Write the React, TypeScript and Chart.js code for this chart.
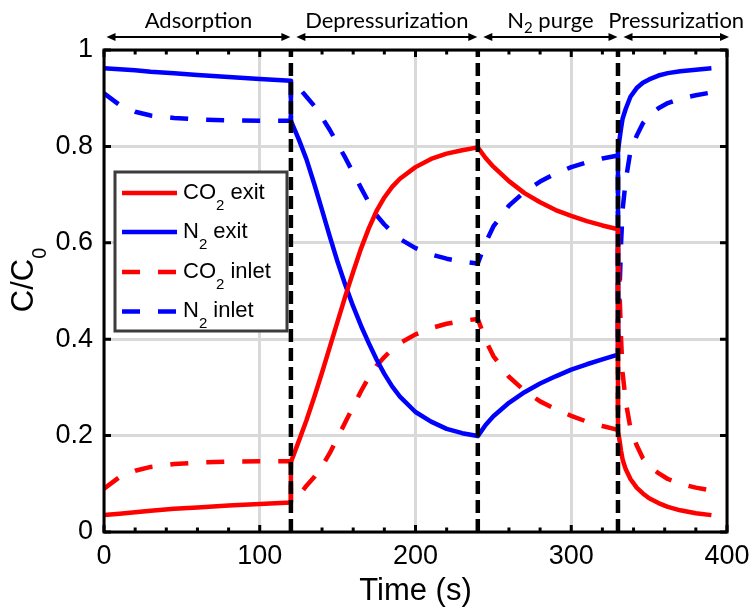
import React, { useEffect, useRef } from "react";
import { Chart, registerables } from "chart.js";

Chart.register(...registerables);

// ---------- data ----------
const time = [
  0, 10, 20, 30, 45, 60, 80, 100, 120,
  120, 125, 130, 135, 140, 145, 150, 155, 160, 165, 170, 175, 180, 185, 190, 200, 210, 220, 230, 240,
  245, 250, 260, 270, 280, 290, 300, 310, 320, 330,
  330, 331, 332, 333, 335, 338, 342, 346, 350, 356, 362, 370, 380, 390,
];

const co2Exit = [
  0.035, 0.038, 0.041, 0.044, 0.048, 0.051, 0.055, 0.058, 0.061,
  0.145, 0.188, 0.232, 0.28, 0.331, 0.384, 0.437, 0.49, 0.54, 0.588, 0.63, 0.666, 0.694, 0.716, 0.733, 0.757, 0.774, 0.785, 0.792, 0.798,
  0.776, 0.758, 0.728, 0.703, 0.684, 0.668, 0.656, 0.645, 0.636, 0.628,
  0.21, 0.19, 0.168, 0.15, 0.13, 0.11, 0.092, 0.08, 0.07, 0.06, 0.052, 0.045, 0.039, 0.035,
];

const n2Exit = [
  0.962, 0.96, 0.958, 0.955, 0.952, 0.948, 0.944, 0.94, 0.936,
  0.853, 0.815, 0.773, 0.722, 0.668, 0.613, 0.56, 0.512, 0.468, 0.428, 0.392, 0.358, 0.328, 0.302, 0.281, 0.249, 0.229, 0.214, 0.205, 0.199,
  0.222, 0.24, 0.268, 0.29, 0.308, 0.323, 0.337, 0.348, 0.358, 0.368,
  0.79, 0.815, 0.838, 0.858, 0.878, 0.903, 0.921, 0.932, 0.939, 0.947, 0.952, 0.956, 0.959, 0.962,
];

const co2Inlet = [
  0.09, 0.114, 0.127, 0.135, 0.141, 0.144, 0.146, 0.147, 0.147,
  0.061, 0.075, 0.096, 0.114, 0.136, 0.164, 0.196, 0.228, 0.26, 0.292, 0.321, 0.345, 0.363, 0.379, 0.392, 0.41, 0.423, 0.432, 0.438, 0.442,
  0.398, 0.365, 0.322, 0.293, 0.271, 0.255, 0.241, 0.229, 0.22, 0.212,
  0.628, 0.5, 0.4, 0.33, 0.27, 0.215, 0.18, 0.153, 0.137, 0.122, 0.11, 0.1, 0.092, 0.086,
];

const n2Inlet = [
  0.91, 0.886, 0.872, 0.864, 0.859, 0.856, 0.854, 0.853, 0.853,
  0.94, 0.922, 0.903, 0.884, 0.86, 0.834, 0.805, 0.776, 0.745, 0.714, 0.684, 0.657, 0.638, 0.622, 0.608, 0.589, 0.576, 0.567, 0.561, 0.557,
  0.6, 0.634, 0.677, 0.706, 0.727, 0.744, 0.757, 0.767, 0.775, 0.781,
  0.37, 0.5, 0.6, 0.67, 0.73, 0.79, 0.822, 0.848, 0.863, 0.879, 0.89, 0.899, 0.906, 0.912,
];

const seriesNames = ["CO_2 exit", "N_2 exit", "CO_2 inlet", "N_2 inlet"];
const phaseBoundaries = [120, 240, 330];
const phaseStarts = [0, 120, 240, 330];
const phaseEnds = [120, 240, 330, 400];
const phaseNames = ["Adsorption", "Depressurization", "N_2 purge", "Pressurization"];
const xRange = [0, 400];
const yRange = [0, 1];
const xMajorStep = 100;
const xMinorStep = 20;
const yMajorStep = 0.2;

// ---------- styles ----------
const SANS = "'Liberation Sans', Arial, Helvetica, sans-serif";
const TOPFONT = "Lato, 'Open Sans', sans-serif";
const RED = "rgb(255,0,0)";
const BLUE = "rgb(0,0,255)";
const CURVE_W = 4.5;
const DASH = [18, 18];

type Part = { s: string; sub: boolean };
function parseRich(text: string): Part[] {
  const parts: Part[] = [];
  let buf = "";
  for (let i = 0; i < text.length; i++) {
    if (text[i] === "_" && i + 1 < text.length) {
      if (buf) parts.push({ s: buf, sub: false });
      buf = "";
      parts.push({ s: text[i + 1], sub: true });
      i++;
    } else buf += text[i];
  }
  if (buf) parts.push({ s: buf, sub: false });
  return parts;
}

function drawRich(
  ctx: CanvasRenderingContext2D,
  text: string,
  x: number,
  y: number,
  size: number,
  subSize: number,
  subShift: number,
  align: "left" | "center",
  family: string
) {
  const parts = parseRich(text);
  const widths = parts.map((p) => {
    ctx.font = `${p.sub ? subSize : size}px ${family}`;
    return ctx.measureText(p.s).width;
  });
  const total = widths.reduce((a, b) => a + b, 0);
  let cx = align === "center" ? x - total / 2 : x;
  ctx.textAlign = "left";
  ctx.textBaseline = "alphabetic";
  parts.forEach((p, k) => {
    ctx.font = `${p.sub ? subSize : size}px ${family}`;
    ctx.fillText(p.s, cx, y + (p.sub ? subShift : 0));
    cx += widths[k];
  });
}

const framePlugin = {
  id: "frameAndDecor",
  afterDatasetsDraw(chart: any) {
    const { ctx, chartArea } = chart;
    const xs = chart.scales.x;
    const ys = chart.scales.y;
    const { left, right, top, bottom } = chartArea;
    ctx.save();
    ctx.strokeStyle = "#000";
    ctx.lineWidth = 3;
    ctx.lineCap = "butt";
    // inward ticks
    ctx.beginPath();
    for (let v = xRange[0]; v <= xRange[1] + 1e-9; v += xMinorStep) {
      const px = xs.getPixelForValue(v);
      const major = Math.abs(v / xMajorStep - Math.round(v / xMajorStep)) < 1e-9;
      const len = major ? 7 : 4.5;
      ctx.moveTo(px, bottom);
      ctx.lineTo(px, bottom - len);
      ctx.moveTo(px, top);
      ctx.lineTo(px, top + len);
    }
    for (let v = yRange[0]; v <= yRange[1] + 1e-9; v += yMajorStep) {
      const py = ys.getPixelForValue(v);
      ctx.moveTo(left, py);
      ctx.lineTo(left + 7, py);
      ctx.moveTo(right, py);
      ctx.lineTo(right - 7, py);
    }
    ctx.stroke();
    // frame
    ctx.strokeRect(left, top, right - left, bottom - top);

    // legend box
    const lx = 115, ly = 172, lw = 172, lh = 159;
    ctx.fillStyle = "#fff";
    ctx.fillRect(lx, ly, lw, lh);
    ctx.strokeStyle = "rgb(60,60,60)";
    ctx.lineWidth = 3;
    ctx.strokeRect(lx, ly, lw, lh);
    const colors = [RED, BLUE, RED, BLUE];
    const dashed = [false, false, true, true];
    const rowY = [193, 232, 272, 311.5];
    seriesNames.forEach((name, i) => {
      const y = rowY[i];
      ctx.beginPath();
      ctx.strokeStyle = colors[i];
      ctx.lineWidth = CURVE_W;
      ctx.setLineDash(dashed[i] ? DASH : []);
      ctx.moveTo(122, y);
      ctx.lineTo(177, y);
      ctx.stroke();
      ctx.setLineDash([]);
      ctx.fillStyle = "#000";
      drawRich(ctx, name, 183, y + 5.5, 22, 15, 11, "left", SANS);
    });

    // y-axis title with subscript
    ctx.save();
    ctx.translate(33, 280);
    ctx.rotate(-Math.PI / 2);
    ctx.fillStyle = "#000";
    drawRich(ctx, "C/C_0", 0, 0, 31, 20, 13, "center", SANS);
    ctx.restore();
    ctx.restore();
  },
  afterDraw(chart: any) {
    const { ctx } = chart;
    const xs = chart.scales.x;
    ctx.save();
    ctx.strokeStyle = "#000";
    ctx.fillStyle = "#000";
    ctx.lineWidth = 2;
    const ay = 37;
    const head = 9;
    const hw = 4;
    phaseNames.forEach((name, i) => {
      const x1 = xs.getPixelForValue(phaseStarts[i]) + (i === 0 ? 2.5 : 5.5);
      const x2 = xs.getPixelForValue(phaseEnds[i]) + (i === phaseNames.length - 1 ? 2 : -0.5);
      ctx.beginPath();
      ctx.moveTo(x1 + head - 1, ay);
      ctx.lineTo(x2 - head + 1, ay);
      ctx.stroke();
      ctx.beginPath();
      ctx.moveTo(x1, ay);
      ctx.lineTo(x1 + head, ay - hw);
      ctx.lineTo(x1 + head, ay + hw);
      ctx.closePath();
      ctx.fill();
      ctx.beginPath();
      ctx.moveTo(x2, ay);
      ctx.lineTo(x2 - head, ay - hw);
      ctx.lineTo(x2 - head, ay + hw);
      ctx.closePath();
      ctx.fill();
      drawRich(ctx, name, (x1 + x2) / 2, 28, 22, 15, 5, "center", TOPFONT);
    });
    ctx.restore();
  },
};

function toPoints(values: number[]) {
  return time.map((t, i) => ({ x: t, y: values[i] }));
}

export default function App() {
  const canvasRef = useRef<HTMLCanvasElement | null>(null);

  useEffect(() => {
    const canvas = canvasRef.current;
    if (!canvas) return;

    const boundarySets = phaseBoundaries.map((b) => ({
      label: `boundary ${b}`,
      data: [
        { x: b, y: yRange[0] },
        { x: b, y: yRange[1] },
      ],
      borderColor: "#000",
      borderWidth: 4.5,
      borderDash: [13, 6],
      pointRadius: 0,
      fill: false,
      tension: 0,
    }));

    const curve = (label: string, values: number[], color: string, dash: number[]) => ({
      label,
      data: toPoints(values),
      borderColor: color,
      backgroundColor: color,
      borderWidth: CURVE_W,
      borderDash: dash,
      borderCapStyle: "butt",
      borderJoinStyle: "round",
      pointRadius: 0,
      fill: false,
      tension: 0,
    });

    const chart = new Chart(canvas, {
      type: "line",
      data: {
        datasets: [
          ...boundarySets,
          curve(seriesNames[0], co2Exit, RED, []),
          curve(seriesNames[1], n2Exit, BLUE, []),
          curve(seriesNames[2], co2Inlet, RED, DASH),
          curve(seriesNames[3], n2Inlet, BLUE, DASH),
        ] as any,
      },
      options: {
        animation: false,
        responsive: false,
        layout: { padding: { top: 50, right: 22, left: 0, bottom: 0 } },
        plugins: {
          legend: { display: false },
          tooltip: { enabled: false },
          title: { display: false },
        },
        scales: {
          x: {
            type: "linear",
            min: xRange[0],
            max: xRange[1],
            ticks: {
              stepSize: xMajorStep,
              color: "#000",
              font: { family: SANS, size: 27 },
              padding: 8,
              maxRotation: 0,
            },
            grid: { color: "rgb(217,217,217)", lineWidth: 3, drawTicks: false },
            border: { display: false },
            title: {
              display: true,
              text: "Time (s)",
              color: "#000",
              font: { family: SANS, size: 31 },
              padding: { top: 0, bottom: -3 },
            },
            afterFit: (scale: any) => {
              scale.height = 75;
              scale.paddingLeft = 0;
              scale.paddingRight = 0;
            },
          },
          y: {
            type: "linear",
            min: yRange[0],
            max: yRange[1],
            ticks: {
              stepSize: yMajorStep,
              color: "#000",
              font: { family: SANS, size: 27 },
              padding: 11,
              callback: (v: any) => String(Math.round(Number(v) * 10) / 10),
            },
            grid: { color: "rgb(217,217,217)", lineWidth: 3, drawTicks: false },
            border: { display: false },
            afterFit: (scale: any) => {
              scale.width = 104;
              scale.paddingTop = 0;
              scale.paddingBottom = 0;
            },
          },
        },
      } as any,
      plugins: [framePlugin],
    });

    return () => {
      chart.destroy();
    };
  }, []);

  return (
    <div style={{ position: "absolute", left: 0, top: 0, width: 749, height: 607, background: "#fff" }}>
      <canvas ref={canvasRef} width={749} height={607} style={{ display: "block" }} />
    </div>
  );
}
